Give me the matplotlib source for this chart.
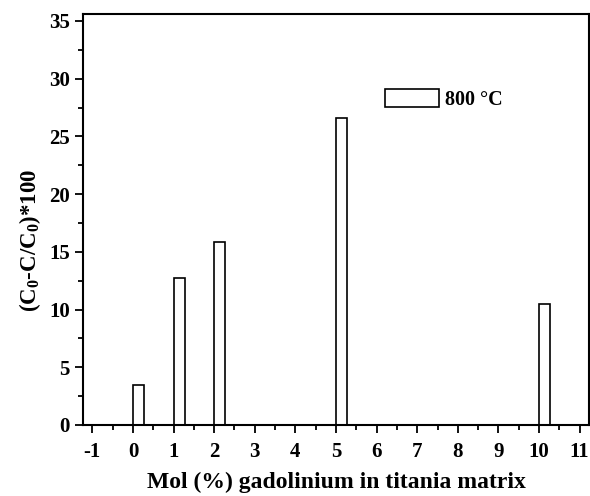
import matplotlib
matplotlib.use('Agg')
import matplotlib.pyplot as plt
from matplotlib.ticker import MultipleLocator

plt.rcParams['font.family'] = ['Liberation Serif', 'DejaVu Serif']
plt.rcParams['font.weight'] = 'bold'
plt.rcParams['axes.unicode_minus'] = False
plt.rcParams['mathtext.fontset'] = 'custom'
plt.rcParams['mathtext.rm'] = 'Liberation Serif:bold'
plt.rcParams['mathtext.it'] = 'Liberation Serif:bold'
plt.rcParams['mathtext.bf'] = 'Liberation Serif:bold'

# Gd loading (mol %) and degradation at 800 °C
mol_pct = [0, 1, 2, 5, 10]
degradation = [3.44, 12.71, 15.88, 26.58, 10.46]

fig = plt.figure(figsize=(5.9, 4.96), dpi=100)
ax = fig.add_axes([83 / 590, 71 / 496, 506 / 590, 411 / 496])

ax.bar(mol_pct, degradation, width=0.27, align='edge',
       facecolor='white', edgecolor='black', linewidth=1.2, label='800 °C')

ax.set_xlim(-1.23, 11.23)
ax.set_ylim(0, 35.6)
ax.xaxis.set_major_locator(MultipleLocator(1))
ax.xaxis.set_minor_locator(MultipleLocator(0.5))
ax.yaxis.set_major_locator(MultipleLocator(5))
ax.yaxis.set_minor_locator(MultipleLocator(2.5))
ax.tick_params(which='both', direction='out', width=1.3, labelsize=15)
ax.tick_params(which='major', length=6)
ax.tick_params(which='minor', length=3.5)
ax.tick_params(axis='x', pad=6)
for s in ax.spines.values():
    s.set_linewidth(1.5)

ax.set_xlabel('Mol (%) gadolinium in titania matrix', fontsize=17,
              fontweight='bold', labelpad=7)
ax.set_ylabel(r'(C$_0$-C/C$_0$)*100', fontsize=16.5, fontweight='bold')
ax.yaxis.set_label_coords(-0.08, 0.45)

ax.legend(loc='upper left', bbox_to_anchor=(0.597, 0.818), frameon=False,
          borderpad=0, borderaxespad=0, handlelength=2.7, handleheight=1.0,
          handletextpad=0.3, prop={'weight': 'bold', 'size': 14.5})

fig.savefig('out.png', dpi=100)
